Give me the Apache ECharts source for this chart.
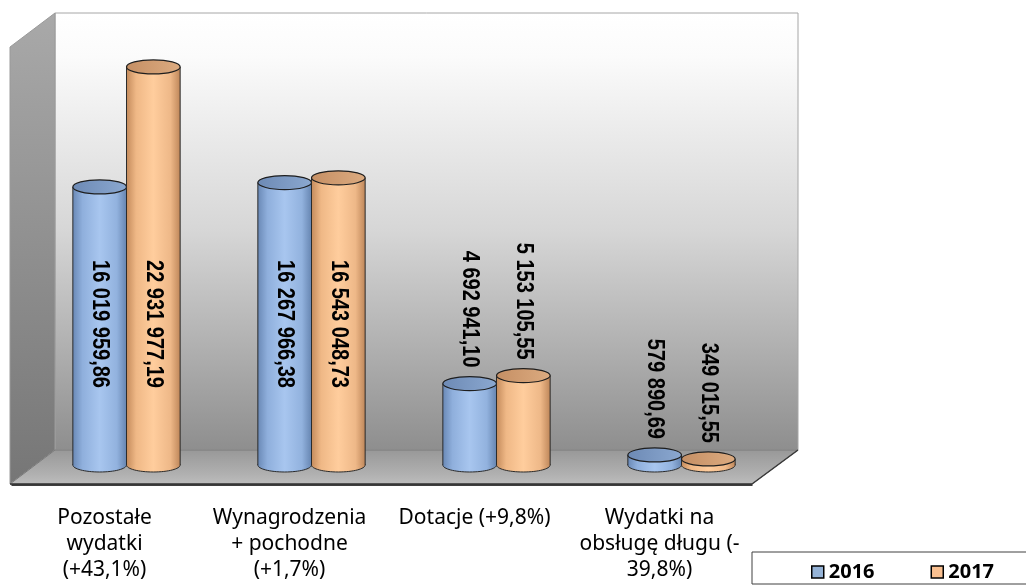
<!DOCTYPE html>
<html>
<head>
<meta charset="utf-8">
<script src="https://cdn.jsdelivr.net/npm/echarts@6/dist/echarts.min.js"></script>
<style>
  html, body { margin: 0; padding: 0; background: #fff; }
  #main { width: 1026px; height: 585px; }
</style>
</head>
<body>
<div id="main"></div>
<script>
// kategorie i wartości (zł)
var categories = [
  'Pozostałe\nwydatki\n(+43,1%)',
  'Wynagrodzenia\n+ pochodne\n(+1,7%)',
  'Dotacje (+9,8%)',
  'Wydatki na\nobsługę długu (-\n39,8%)'
];
var seriesNames = ['2016', '2017'];
var values2016 = [16019959.86, 16267966.38, 4692941.10, 579890.69];
var values2017 = [22931977.19, 16543048.73, 5153105.55, 349015.55];

// formatowanie liczby: 16 019 959,86
function fmt(v) {
  var parts = v.toFixed(2).split('.');
  return parts[0].replace(/\B(?=(\d{3})+(?!\d))/g, ' ') + ',' + parts[1];
}

var palette = {
  '2016': {
    legend: '#95b3d7',
    body: ['#6a89b6', '#8fafdc', '#a8c6ef', '#92b2de', '#6685b1'],
    top: ['#6d8ab5', '#8ba8d0']
  },
  '2017': {
    legend: '#fac090',
    body: ['#c48b5c', '#efb886', '#ffcd9d', '#eeb888', '#bf875a'],
    top: ['#c58f64', '#dcab80']
  }
};

function hGrad(c) {
  return new echarts.graphic.LinearGradient(0, 0, 1, 0, [
    { offset: 0, color: c[0] },
    { offset: 0.18, color: c[1] },
    { offset: 0.5, color: c[2] },
    { offset: 0.82, color: c[3] },
    { offset: 1, color: c[4] }
  ]);
}

// rysowanie cylindra
function renderItem(params, api) {
  var idx = api.value(0);
  var val = api.value(1);
  var top = api.coord([idx, val]);
  var base = api.coord([idx, 0]);
  var bw = api.size([1, 0])[0] * 0.29;
  var name = seriesNames[params.seriesIndex];
  var pal = palette[name];
  var cx = top[0] + (params.seriesIndex === 0 ? -bw / 2 : bw / 2);
  var rx = bw / 2, ry = 7;
  var h = base[1] - top[1];
  var grad = hGrad(pal.body);

  var children = [
    { type: 'ellipse', shape: { cx: cx, cy: base[1], rx: rx, ry: ry },
      style: { fill: grad, stroke: '#2b2b2b', lineWidth: 1 } },
    { type: 'rect', shape: { x: cx - rx, y: top[1], width: bw, height: h },
      style: { fill: grad } },
    { type: 'line', shape: { x1: cx - rx, y1: top[1], x2: cx - rx, y2: base[1] },
      style: { stroke: '#2b2b2b', lineWidth: 1 } },
    { type: 'line', shape: { x1: cx + rx, y1: top[1], x2: cx + rx, y2: base[1] },
      style: { stroke: '#2b2b2b', lineWidth: 1 } },
    { type: 'ellipse', shape: { cx: cx, cy: top[1], rx: rx, ry: ry },
      style: {
        fill: new echarts.graphic.LinearGradient(0, 0, 1, 0, [
          { offset: 0, color: pal.top[0] },
          { offset: 1, color: pal.top[1] }
        ]),
        stroke: '#1e1e1e', lineWidth: 1.2
      } }
  ];

  // etykieta pionowa
  var inside = h > 200;
  children.push({
    type: 'text',
    x: cx,
    y: inside ? base[1] - 141 : top[1] - 16,
    rotation: -Math.PI / 2,
    scaleY: 1.2,
    style: {
      text: fmt(val),
      fill: '#000',
      fontFamily: '"Liberation Sans", Arial, sans-serif',
      fontWeight: 'bold',
      fontSize: 20,
      align: inside ? 'center' : 'right',
      verticalAlign: 'middle'
    }
  });

  return { type: 'group', children: children };
}

var myChart = echarts.init(document.getElementById('main'));

var option = {
  animation: false,
  backgroundColor: '#fff',
  graphic: [
    // ściana tylna
    { type: 'rect', z: 0, shape: { x: 55, y: 13, width: 743, height: 437 },
      style: {
        fill: new echarts.graphic.LinearGradient(0, 0, 0, 1, [
          { offset: 0, color: '#ffffff' },
          { offset: 0.1, color: '#fbfbfb' },
          { offset: 0.5, color: '#d6d6d6' },
          { offset: 1, color: '#8e8e8e' }
        ]),
        stroke: '#a6a6a6', lineWidth: 1
      } },
    // ściana boczna
    { type: 'polygon', z: 0, shape: { points: [[10, 47], [55, 13], [55, 450], [10, 484]] },
      style: {
        fill: new echarts.graphic.LinearGradient(0, 0, 0, 1, [
          { offset: 0, color: '#a9a9a9' },
          { offset: 1, color: '#767676' }
        ]),
        stroke: '#9a9a9a', lineWidth: 1
      } },
    // podłoga
    { type: 'polygon', z: 0, shape: { points: [[55, 450], [798, 450], [752, 484], [10, 484]] },
      style: {
        fill: new echarts.graphic.LinearGradient(0, 0, 0, 1, [
          { offset: 0, color: '#989898' },
          { offset: 0.7, color: '#b0b0b0' },
          { offset: 1, color: '#bdbdbd' }
        ]),
        stroke: '#7a7a7a', lineWidth: 1
      } },
    { type: 'line', z: 1, shape: { x1: 10, y1: 484, x2: 752, y2: 484 },
      style: { stroke: '#3a3a3a', lineWidth: 1.5 } },
    { type: 'line', z: 1, shape: { x1: 752, y1: 484, x2: 798, y2: 450 },
      style: { stroke: '#3a3a3a', lineWidth: 1.5 } },
    // ramka legendy
    { type: 'rect', z: 1, shape: { x: 752, y: 552, width: 300, height: 32 },
      style: { fill: '#fff', stroke: '#404040', lineWidth: 1 } }
  ],
  legend: {
    left: 806,
    top: 557,
    itemWidth: 12,
    itemHeight: 12,
    itemGap: 56,
    icon: 'rect',
    itemStyle: { borderColor: '#000', borderWidth: 1.5 },
    textStyle: { fontFamily: '"Noto Sans", sans-serif', fontWeight: 'bold', fontSize: 20, color: '#000' },
    data: seriesNames
  },
  grid: [
    { left: 12, width: 740, top: 31, bottom: 100 },
    { left: 34, width: 740, top: 31, bottom: 120 }
  ],
  xAxis: [
    {
      type: 'category', gridIndex: 0, data: categories,
      axisLine: { lineStyle: { color: '#000', width: 1.5 } },
      axisTick: { length: 8, lineStyle: { color: '#000' } },
      axisLabel: {
        interval: 0, color: '#000', margin: 20,
        fontFamily: '"Noto Sans", sans-serif', fontSize: 21, lineHeight: 26
      }
    },
    { type: 'category', gridIndex: 1, data: categories, show: false }
  ],
  yAxis: [
    { type: 'value', gridIndex: 0, show: false, min: 0, max: 25000000 },
    { type: 'value', gridIndex: 1, show: false, min: 0, max: 25000000 }
  ],
  series: [
    {
      name: seriesNames[0], type: 'custom', xAxisIndex: 1, yAxisIndex: 1,
      itemStyle: { color: palette['2016'].legend },
      renderItem: renderItem,
      data: values2016.map(function (v, i) { return [i, v]; })
    },
    {
      name: seriesNames[1], type: 'custom', xAxisIndex: 1, yAxisIndex: 1,
      itemStyle: { color: palette['2017'].legend },
      renderItem: renderItem,
      data: values2017.map(function (v, i) { return [i, v]; })
    }
  ]
};

myChart.setOption(option);
</script>
</body>
</html>
